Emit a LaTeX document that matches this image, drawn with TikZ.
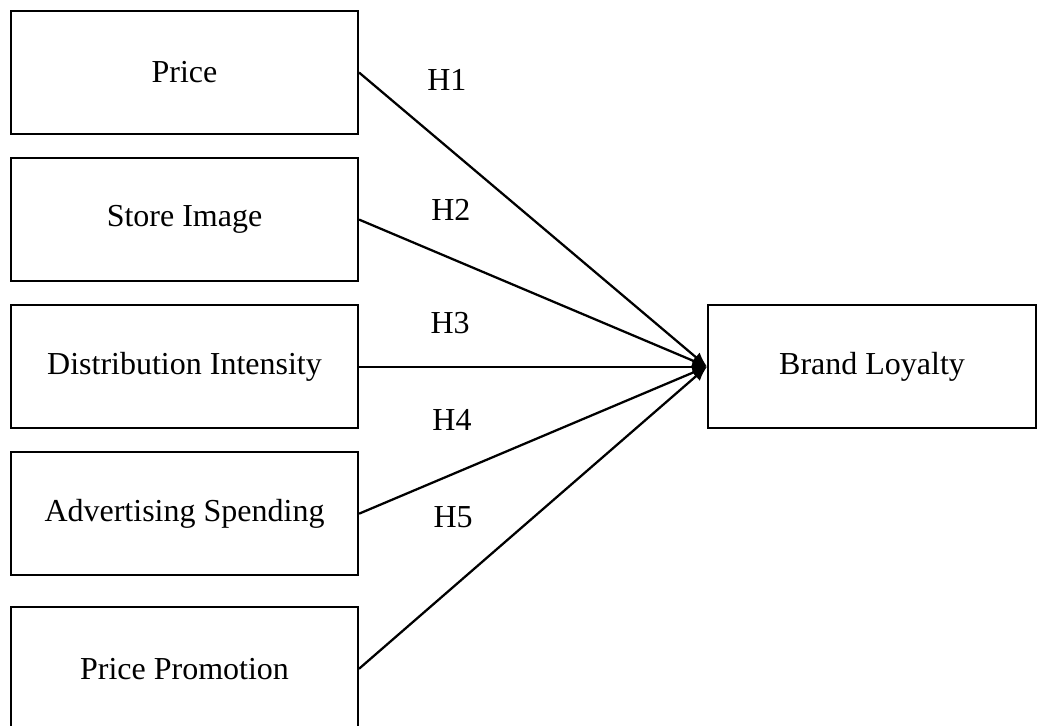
\documentclass[tikz,border=0pt]{standalone}
\usepackage{fontspec}
\setmainfont{Liberation Serif}
\usetikzlibrary{arrows.meta, positioning}

\begin{document}
\begin{tikzpicture}[
        node distance=8.25pt and 130.5pt,
        factor/.style={
            rectangle,
            draw=black,
            line width=0.7pt,
            minimum width=130.2pt,
            minimum height=46.2pt,
            inner sep=0pt,
            align=center,
            font=\fontsize{12}{14}\selectfont
        },
        outcome/.style={factor, minimum width=123.05pt},
        hyp/.style={inner sep=0pt, font=\fontsize{12}{14}\selectfont},
        arrow/.style={
            ->,
            >={Latex[length=5.5pt,width=4.5pt]},
            line width=0.85pt,
            black
        }
    ]
    \useasboundingbox (0,0) rectangle (392.625pt,-272.25pt);

    % Antecedents (left column)
    \node[factor] (price) at (69.19pt,-27.19pt) {Price};
    \node[factor, below=of price]               (store)  {Store Image};
    \node[factor, below=of store]               (dist)   {Distribution Intensity};
    \node[factor, below=of dist]                (advert) {Advertising Spending};
    \node[factor, below=of advert, yshift=-3pt] (promo)  {Price Promotion};

    % Outcome (right)
    \node[outcome, right=of dist] (loyalty) {Brand Loyalty};

    % Hypothesis labels
    \node[hyp] (h1) at (167.6pt,-30pt)    {H1};
    \node[hyp] (h2) at (169.1pt,-78.75pt) {H2};
    \node[hyp] (h3) at (168.8pt,-121.1pt) {H3};
    \node[hyp] (h4) at (169.5pt,-157.5pt) {H4};
    \node[hyp] (h5) at (169.9pt,-193.9pt) {H5};

    % Paths
    \draw[arrow] (price.east)  -- (loyalty.west);
    \draw[arrow] (store.east)  -- (loyalty.west);
    \draw[arrow] (dist.east)   -- (loyalty.west);
    \draw[arrow] (advert.east) -- (loyalty.west);
    \draw[arrow] (promo.east)  -- (loyalty.west);

\end{tikzpicture}
\end{document}
